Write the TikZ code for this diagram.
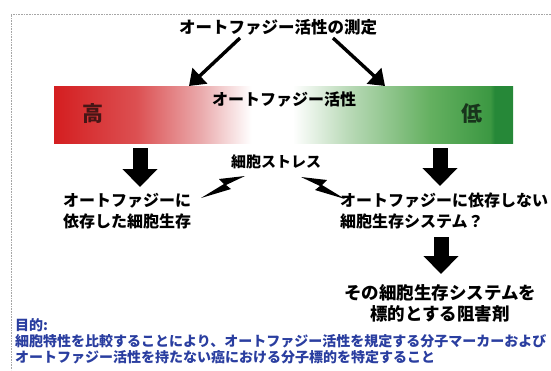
\documentclass[tikz,border=0pt]{standalone}
\usepackage{fontspec}
\setmainfont{Noto Sans CJK JP}
\usetikzlibrary{arrows.meta}
\definecolor{barR}{RGB}{212,30,32}
\definecolor{barR2}{RGB}{220,80,82}
\definecolor{barP}{RGB}{234,170,172}
\definecolor{barLG}{RGB}{186,218,184}
\definecolor{barG}{RGB}{100,176,96}
\definecolor{barG2}{RGB}{60,152,66}
\definecolor{barD}{RGB}{38,136,56}
\definecolor{goalblue}{RGB}{42,62,160}
\definecolor{highc}{RGB}{70,22,22}
\definecolor{lowc}{RGB}{24,52,28}
\pgfdeclarehorizontalshading{barshade}{100bp}{color(0bp)=(barR); color(25bp)=(barR); color(34bp)=(barR2); color(41bp)=(barP); color(46.5bp)=(white); color(51bp)=(white); color(57bp)=(barLG); color(66bp)=(barG); color(72.5bp)=(barG2); color(73bp)=(barD); color(75bp)=(barD); color(100bp)=(barD)}
\tikzset{
  frame/.style={draw=gray!70, densely dotted, line width=0.6pt},
  jt/.style={inner sep=0pt, font=\fontsize{16}{21}\selectfont\bfseries},
  diag/.style={line width=3.4pt, -{Triangle[length=15pt,width=21pt]}},
  blk/.style={line width=15pt, -{Triangle[length=18pt,width=34pt]}},
  bolt/.style={fill=black},
  goal/.style={inner sep=0pt, anchor=west, text=goalblue, font=\fontsize{14}{16}\selectfont\bfseries}
}
\begin{document}
\begin{tikzpicture}[x=1pt,y=-1pt]
\useasboundingbox (0,0) rectangle (551,370);
\fill[white] (0,0) rectangle (551,370);
\coordinate (fr1) at (551,14); \coordinate (fr2) at (11,14); \coordinate (fr3) at (11,370);
\draw[frame] (fr1) -- (fr2) -- (fr3);
% title
\node[jt, font=\fontsize{16.5}{20}\selectfont\bfseries] (title) at (278,27) {オートファジー活性の測定};
\coordinate (tL) at (240,38); \coordinate (tR) at (333,38);
\coordinate (bL) at (189,86); \coordinate (bR) at (385,86);
% bar
\node[shading=barshade, minimum width=459pt, minimum height=57pt, inner sep=0pt] (bar) at (283.5,114.5) {};
\node[jt] (barlbl) at (284,99) {オートファジー活性};
\node[jt, text=highc, font=\fontsize{21}{24}\selectfont\bfseries] (high) at (93,114) {高};
\node[jt, text=lowc, font=\fontsize{21}{24}\selectfont\bfseries] (low) at (472,114) {低};
\draw[diag] (tL) -- (bL);
\draw[diag] (tR) -- (bR);
% down arrows
\coordinate (d1s) at (140,148); \coordinate (d1e) at (140,187);
\coordinate (d2s) at (440,148); \coordinate (d2e) at (440,186);
\coordinate (d3s) at (441,237); \coordinate (d3e) at (441,274);
\draw[blk] (d1s) -- (d1e);
\draw[blk] (d2s) -- (d2e);
\draw[blk] (d3s) -- (d3e);
% stress
\node[jt, font=\fontsize{15}{18}\selectfont\bfseries] (stress) at (276,162) {細胞ストレス};
\fill[bolt] (245,176) -- (219,179) -- (224,184) -- (201,198) -- (231,189) -- (226,185) -- cycle;
\fill[bolt] (301,177) -- (327,180) -- (322,185) -- (345,199) -- (315,190) -- (320,186) -- cycle;
% left / right results
\node[jt, align=left, anchor=north west] (dep) at (63,193) {オートファジーに\\依存した細胞生存};
\node[jt, align=left, anchor=north west] (indep) at (340,193) {オートファジーに依存しない\\細胞生存システム？};
\node[jt, align=center, font=\fontsize{17.5}{21}\selectfont\bfseries] (inhib) at (440,303) {その細胞生存システムを\\標的とする阻害剤};
% goal
\node[goal] (g1) at (15,325) {目的:};
\node[goal] (g2) at (15,341) {細胞特性を比較することにより、オートファジー活性を規定する分子マーカーおよび};
\node[goal] (g3) at (15,357) {オートファジー活性を持たない癌における分子標的を特定すること};
\end{tikzpicture}
\end{document}
